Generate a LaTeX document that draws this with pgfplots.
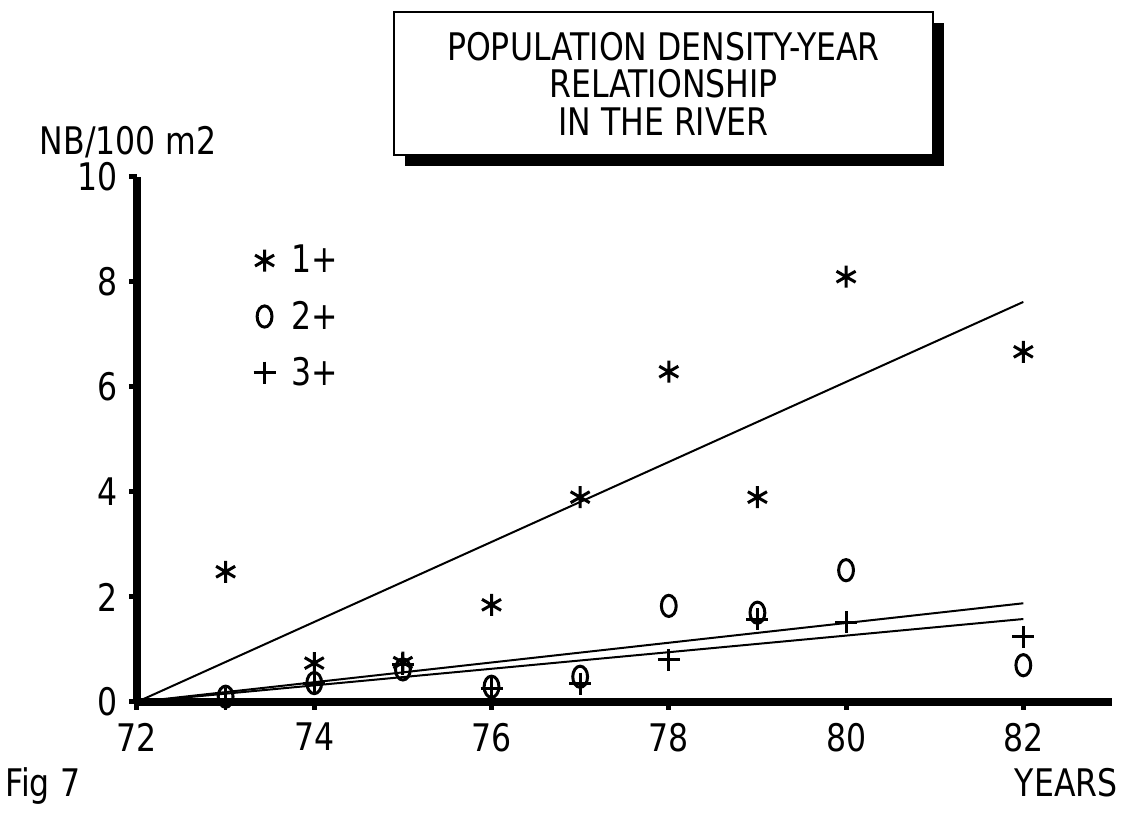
\documentclass[border=0pt]{standalone}
\usepackage{fontspec}
\setmainfont[FakeStretch=0.83]{DejaVu Sans}
\usepackage{pgfplots}
\pgfplotsset{compat=1.18}
\usetikzlibrary{shadows}
\begin{document}
\begin{tikzpicture}
\begin{axis}[
  scale only axis, width=487.5pt, height=262.5pt,
  xmin=72, xmax=83, ymin=0, ymax=10,
  axis x line*=bottom, axis y line*=left,
  axis line style={line width=4pt, -},
  xtick={72,74,...,82}, ytick={0,2,...,10},
  tick align=outside, major tick length=4pt,
  tick style={line width=2.5pt, black},
  every tick label/.append style={font=\fontsize{19}{22}\selectfont},
  xticklabel style={yshift=-3pt},
  yticklabel style={xshift=-2pt},
  /pgf/number format/assume math mode=true,
  clip=false,
  legend style={at={(0.113,0.886)}, anchor=north west, draw=none, fill=none,
    font=\fontsize{19}{22}\selectfont, row sep=8.5pt, column sep=6pt},
  legend cell align=left,
]
\path (rel axis cs:-0.1405,-0.2133) rectangle (rel axis cs:1.0144,1.3371);
% regression lines
\addplot[black, line width=1pt, forget plot] coordinates {(72,0) (82,7.62)};
\addplot[black, line width=1pt, forget plot] coordinates {(72,0) (82,1.88)};
\addplot[black, line width=1pt, forget plot] coordinates {(72,0) (82,1.58)};
% data
\addplot[only marks, mark=asterisk, mark size=5.5pt, mark options={line width=1.5pt, black}]
  coordinates {(73,2.48) (74,0.74) (75,0.75) (76,1.85) (77,3.9) (78,6.29) (79,3.9) (80,8.1) (82,6.67)};
\addlegendentry{1+}
\addplot[only marks, mark=o, mark size=5.3pt, mark options={xscale=0.7, line width=1.5pt, black}]
  coordinates {(73,0.1) (74,0.36) (75,0.62) (76,0.29) (77,0.48) (78,1.83) (79,1.7) (80,2.51) (82,0.7)};
\addlegendentry{2+}
\addplot[only marks, mark=+, mark size=5.5pt, mark options={line width=1.5pt, black}]
  coordinates {(73,0.05) (74,0.35) (75,0.72) (76,0.25) (77,0.35) (78,0.8) (79,1.58) (80,1.52) (82,1.24)};
\addlegendentry{3+}
% texts
\node[draw, line width=1pt, fill=white,
  drop shadow={shadow xshift=5.5pt, shadow yshift=-5.5pt, fill=black, opacity=1},
  minimum width=269.5pt, minimum height=71.5pt, align=center,
  font=\fontsize{19}{18.8}\selectfont]
  at (rel axis cs:0.540,1.178) {POPULATION DENSITY-YEAR\\RELATIONSHIP\\IN THE RIVER};
\node[anchor=west, font=\fontsize{19}{22}\selectfont, inner sep=0pt] at (rel axis cs:-0.1, 1.066) {NB/100 m2};
\node[anchor=base west, font=\fontsize{19}{22}\selectfont, inner sep=0pt] at (rel axis cs:-0.1354, -0.181) {Fig 7};
\node[anchor=base east, font=\fontsize{19}{22}\selectfont, inner sep=0pt] at (rel axis cs:1.0062, -0.181) {YEARS};
\end{axis}
\end{tikzpicture}
\end{document}
